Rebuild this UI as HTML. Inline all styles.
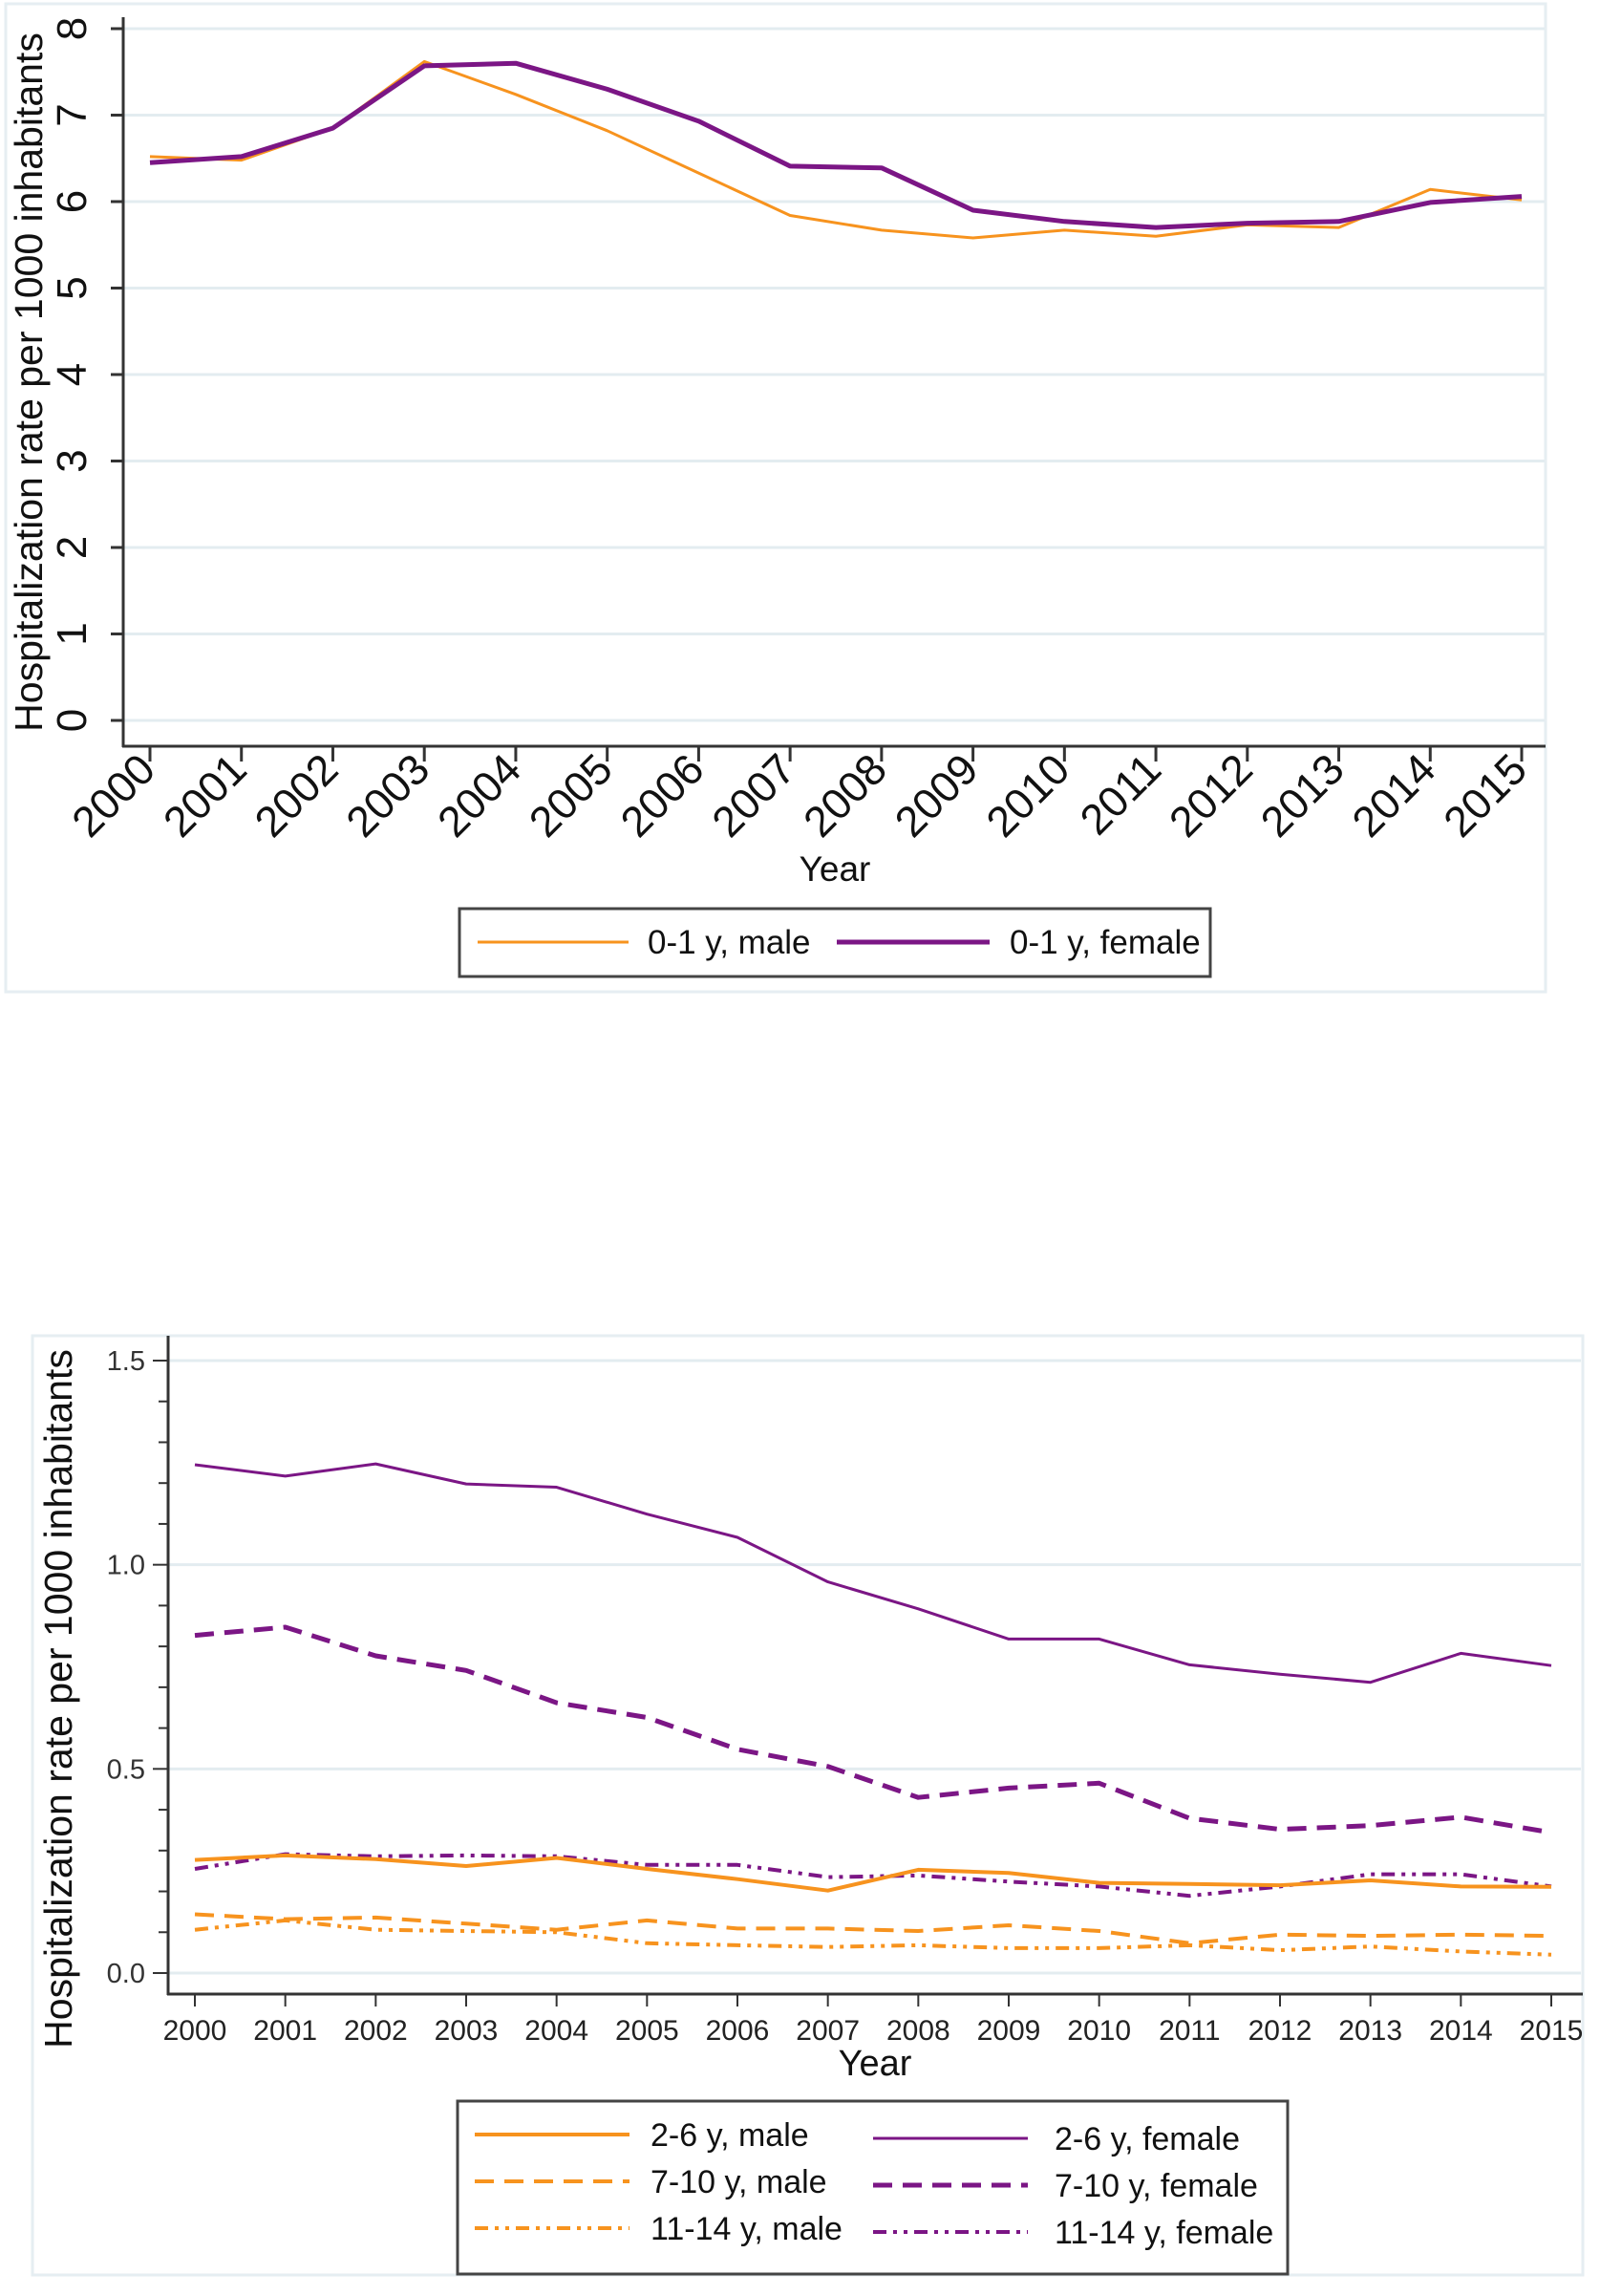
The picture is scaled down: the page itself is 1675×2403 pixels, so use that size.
<!DOCTYPE html>
<html><head><meta charset="utf-8"><style>
html,body{margin:0;padding:0;background:#fff;}
svg{display:block;font-family:"Liberation Sans",Arial,sans-serif;}
</style></head><body>
<svg id="svg" width="1675" height="2403" viewBox="0 0 1675 2403" xmlns="http://www.w3.org/2000/svg">
<rect x="6" y="4" width="1612" height="1034" fill="none" stroke="#e6eef2" stroke-width="3"/>
<rect x="34" y="1398" width="1623" height="983" fill="none" stroke="#e6eef2" stroke-width="3"/>
<g id="top"></g>
<g id="bot"></g>
</svg>
<script>
const years = [2000,2001,2002,2003,2004,2005,2006,2007,2008,2009,2010,2011,2012,2013,2014,2015];
const topTicks = [0,1,2,3,4,5,6,7,8];
const male01 = [6.52,6.48,6.85,7.62,7.24,6.82,6.33,5.84,5.67,5.58,5.67,5.60,5.73,5.70,6.14,6.02];
const female01 = [6.45,6.52,6.85,7.57,7.60,7.30,6.93,6.41,6.39,5.90,5.77,5.70,5.75,5.77,5.99,6.06];
const botTicks = [0,0.5,1.0,1.5];
const botTickLabels = ["0.0","0.5","1.0","1.5"];
const male26 = [0.277,0.288,0.279,0.262,0.282,0.255,0.230,0.202,0.253,0.245,0.221,0.218,0.215,0.227,0.212,0.211];
const female26 = [1.245,1.217,1.247,1.198,1.190,1.124,1.067,0.958,0.892,0.818,0.818,0.755,0.732,0.712,0.783,0.753];
const male710 = [0.144,0.132,0.136,0.121,0.106,0.129,0.109,0.109,0.103,0.117,0.103,0.073,0.094,0.091,0.094,0.091];
const female710 = [0.827,0.847,0.777,0.741,0.662,0.626,0.548,0.506,0.430,0.453,0.465,0.379,0.352,0.361,0.382,0.344];
const male1114 = [0.106,0.129,0.106,0.103,0.100,0.073,0.068,0.064,0.068,0.061,0.061,0.068,0.056,0.065,0.053,0.045];
const female1114 = [0.255,0.291,0.286,0.288,0.286,0.265,0.265,0.235,0.239,0.224,0.212,0.189,0.212,0.242,0.242,0.212];

const NS="http://www.w3.org/2000/svg";
function mk(p,tag,a,txt){const e=document.createElementNS(NS,tag);for(const k in a)e.setAttribute(k,a[k]);if(txt!==undefined)e.textContent=txt;p.appendChild(e);return e;}
const OR="#f7931e", PU="#7b1685";

// ---------- TOP ----------
const T=document.getElementById('top');
const tx=y=>157+(y-2000)*(1593-157)/15;
const ty=v=>754-v*(754-30)/8;
for(const v of topTicks){
  const g=mk(T,'line',{x1:129,x2:1617,y1:ty(v),y2:ty(v),stroke:"#e3ecf0","stroke-width":3});
  
  
  const t=mk(T,'line',{x1:116,x2:129,y1:ty(v),y2:ty(v),stroke:"#333","stroke-width":3});
  
  
  const l=mk(T,'text',{x:0,y:0,transform:`translate(90,${ty(v)}) rotate(-90)`,"text-anchor":"middle","font-size":44,fill:"#111"},String(v));
  
  
}
mk(T,'line',{x1:129,y1:18,x2:129,y2:782,stroke:"#333","stroke-width":3,});
mk(T,'line',{x1:128,y1:781,x2:1618,y2:781,stroke:"#333","stroke-width":3,});
for(const y of years){
  const t=mk(T,'line',{x1:tx(y),x2:tx(y),y1:781,y2:797,stroke:"#333","stroke-width":3});
  
  
  const l=mk(T,'text',{x:0,y:0,transform:`translate(${tx(y)+8},${808}) rotate(-45)`,"text-anchor":"end","font-size":45,fill:"#111"},String(y));
  
  
}
mk(T,'text',{x:0,y:0,transform:"translate(44,400) rotate(-90)","text-anchor":"middle","font-size":41,fill:"#111",},"Hospitalization rate per 1000 inhabitants");
mk(T,'text',{x:874,y:922,"text-anchor":"middle","font-size":37,fill:"#111",},"Year");
function line(P,xs,ys,vals,color,w,dash,name){
  const pts=vals.map((v,i)=>xs(years[i]).toFixed(1)+","+ys(v).toFixed(1)).join(" ");
  const a={points:pts,fill:"none",stroke:color,"stroke-width":w,"stroke-linejoin":"round"};
  if(dash)a["stroke-dasharray"]=dash;
  const e=mk(P,'polyline',a);
  
  
}
line(T,tx,ty,male01,OR,3,null,'series-0-1-male');
line(T,tx,ty,female01,PU,5,null,'series-0-1-female');
mk(T,'rect',{x:481,y:951,width:786,height:71,fill:"#fff",stroke:"#444","stroke-width":3,});
mk(T,'line',{x1:500,x2:658,y1:986,y2:986,stroke:OR,"stroke-width":3,});
mk(T,'text',{x:678,y:998,"font-size":35,fill:"#111",},"0-1 y, male");
mk(T,'line',{x1:876,x2:1036,y1:986,y2:986,stroke:PU,"stroke-width":5,});
mk(T,'text',{x:1057,y:998,"font-size":35,fill:"#111",},"0-1 y, female");

// ---------- BOTTOM ----------
const B=document.getElementById('bot');
const bx=y=>204+(y-2000)*(1624-204)/15;
const by=v=>2065-v*(2065-1424)/1.5;
botTicks.forEach((v,i)=>{
  const g=mk(B,'line',{x1:176,x2:1655,y1:by(v),y2:by(v),stroke:"#e3ecf0","stroke-width":3});
  
  
  const l=mk(B,'text',{x:152,y:by(v)+10,"text-anchor":"end","font-size":29,fill:"#333"},botTickLabels[i]);
  
  
});
for(let k=0;k<=15;k++){
  const v=k*0.1, major=(k%5===0);
  const t=mk(B,'line',{x1:major?160:166,x2:176,y1:by(v),y2:by(v),stroke:"#333","stroke-width":2});
  
  
}
mk(B,'line',{x1:176,y1:1398,x2:176,y2:2088,stroke:"#333","stroke-width":3,});
mk(B,'line',{x1:175,y1:2087,x2:1657,y2:2087,stroke:"#333","stroke-width":3,});
for(const y of years){
  const t=mk(B,'line',{x1:bx(y),x2:bx(y),y1:2087,y2:2100,stroke:"#333","stroke-width":2});
  
  
  const l=mk(B,'text',{x:bx(y),y:2135,"text-anchor":"middle","font-size":30,fill:"#222"},String(y));
  
  
}
mk(B,'text',{x:0,y:0,transform:"translate(75,1778) rotate(-90)","text-anchor":"middle","font-size":41,fill:"#111",},"Hospitalization rate per 1000 inhabitants");
mk(B,'text',{x:916,y:2172,"text-anchor":"middle","font-size":38,fill:"#111",},"Year");
const D1="20,11", D2="14,7,4,7,4,7";
line(B,bx,by,male1114,OR,4,D2,'series-11-14-male');
line(B,bx,by,male710,OR,4,D1,'series-7-10-male');
line(B,bx,by,female1114,PU,4,D2,'series-11-14-female');
line(B,bx,by,male26,OR,4,null,'series-2-6-male');
line(B,bx,by,female710,PU,5,D1,'series-7-10-female');
line(B,bx,by,female26,PU,3,null,'series-2-6-female');
mk(B,'rect',{x:479,y:2199,width:869,height:181,fill:"#fff",stroke:"#444","stroke-width":3,});
const leg=[["2-6 y, male",OR,4,null,497,681,2234],["7-10 y, male",OR,4,D1,497,681,2283],["11-14 y, male",OR,4,D2,497,681,2332],
["2-6 y, female",PU,3,null,914,1104,2238],["7-10 y, female",PU,5,D1,914,1104,2287],["11-14 y, female",PU,4,D2,914,1104,2336]];
for(const [lab,c,w,d,x1,tx2,yy] of leg){
  const a={x1:x1,x2:x1+162,y1:yy,y2:yy,stroke:c,"stroke-width":w};
  if(d)a["stroke-dasharray"]=d;
  const s=mk(B,'line',a);
  
  
  const t=mk(B,'text',{x:tx2,y:yy+12,"font-size":34,fill:"#111"},lab);
  
  
}
</script>
</body></html>
